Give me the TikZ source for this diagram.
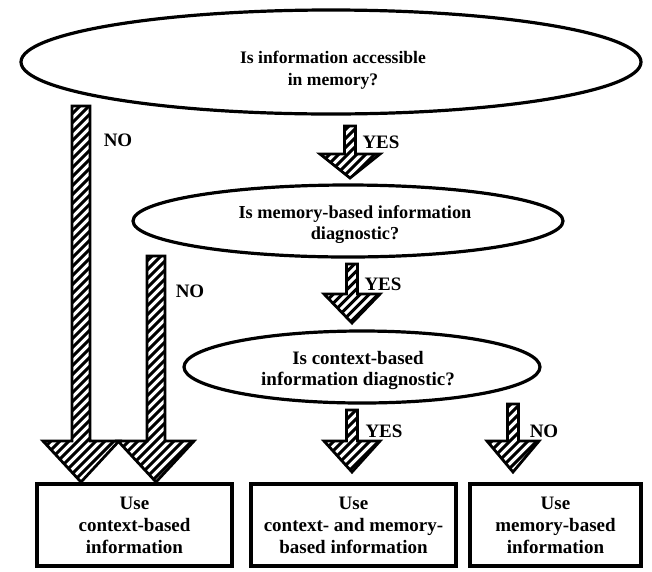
\documentclass[tikz,border=0pt]{standalone}
\usepackage{fontspec}
\setmainfont{Liberation Serif}
\usetikzlibrary{shapes.geometric,calc}
\newcommand{\hatcharrow}[5]{%
  \draw[harrow] let \p1=(#1), \p2=(#2) in
    (\x1-#3,\y1) -- (\x1+#3,\y1) -- (\x1+#3,\y2+#5) -- (\x1+#4,\y2+#5)
    -- (\x1,\y2) -- (\x1-#4,\y2+#5) -- (\x1-#3,\y2+#5) -- cycle;}
\begin{document}
\begin{tikzpicture}[x=1pt,y=-1pt,
  qshape/.style={ellipse,draw,line width=3.2pt,inner sep=0pt},
  qtext/.style={inner sep=0pt,align=center},
  res/.style={draw,line width=3.2pt,inner sep=0pt,align=center,
    font=\bfseries\fontsize{19}{22}\selectfont},
  harrow/.style={draw,line width=2.8pt,line join=miter,
    path picture={\foreach \i in {-35,...,35}{
      \draw[line width=3pt] ([xshift=\i*9pt]path picture bounding box.center)
        ++(-300pt,-300pt) -- ++(600pt,600pt);}}},
  lbl/.style={font=\bfseries\fontsize{19}{20}\selectfont,inner sep=0pt}]
\useasboundingbox (0,0) rectangle (652,571);
% questions
\node[qshape,minimum width=620,minimum height=104] (q1) at (331,62) {};
\node[qtext,font=\bfseries\fontsize{17.6}{22}\selectfont] (q1t) at (333,70) {Is information accessible\\in memory?};
\node[qshape,minimum width=430,minimum height=72] (q2) at (348,221) {};
\node[qtext,font=\bfseries\fontsize{18.3}{21}\selectfont] (q2t) at (355,225) {Is memory-based information\\diagnostic?};
\node[qshape,minimum width=356,minimum height=72] (q3) at (362,367) {};
\node[qtext,font=\bfseries\fontsize{19}{21}\selectfont] (q3t) at (358,370) {Is context-based\\information diagnostic?};
% results
\node[res,minimum width=195,minimum height=82] (r1) at (134.5,525) {Use\\context-based\\information};
\node[res,minimum width=205,minimum height=82] (r2) at (353.5,525) {Use\\context- and memory-\\based information};
\node[res,minimum width=171,minimum height=82] (r3) at (555.5,525) {Use\\memory-based\\information};
% arrow end points
\coordinate (a1s) at (81,106);  \coordinate (a1e) at (81,482);
\coordinate (a2s) at (156,256); \coordinate (a2e) at (156,482);
\coordinate (y1s) at (350,126); \coordinate (y1e) at (350,178);
\coordinate (y2s) at (352,264); \coordinate (y2e) at (352,323);
\coordinate (y3s) at (352,410); \coordinate (y3e) at (352,472);
\coordinate (n3s) at (513,404); \coordinate (n3e) at (513,472);
\hatcharrow{a1s}{a1e}{9pt}{38pt}{41pt}
\hatcharrow{a2s}{a2e}{9pt}{38pt}{41pt}
\hatcharrow{y1s}{y1e}{5.5pt}{30pt}{24pt}
\hatcharrow{y2s}{y2e}{5.5pt}{28pt}{29pt}
\hatcharrow{y3s}{y3e}{5.5pt}{28pt}{31pt}
\hatcharrow{n3s}{n3e}{5.5pt}{26pt}{31pt}
% labels
\node[lbl] (l1) at (118,140) {NO};
\node[lbl] (l2) at (190,291) {NO};
\node[lbl] (l3) at (381,142) {YES};
\node[lbl] (l4) at (383,284) {YES};
\node[lbl] (l5) at (384,431) {YES};
\node[lbl] (l6) at (544,431) {NO};
\end{tikzpicture}
\end{document}
